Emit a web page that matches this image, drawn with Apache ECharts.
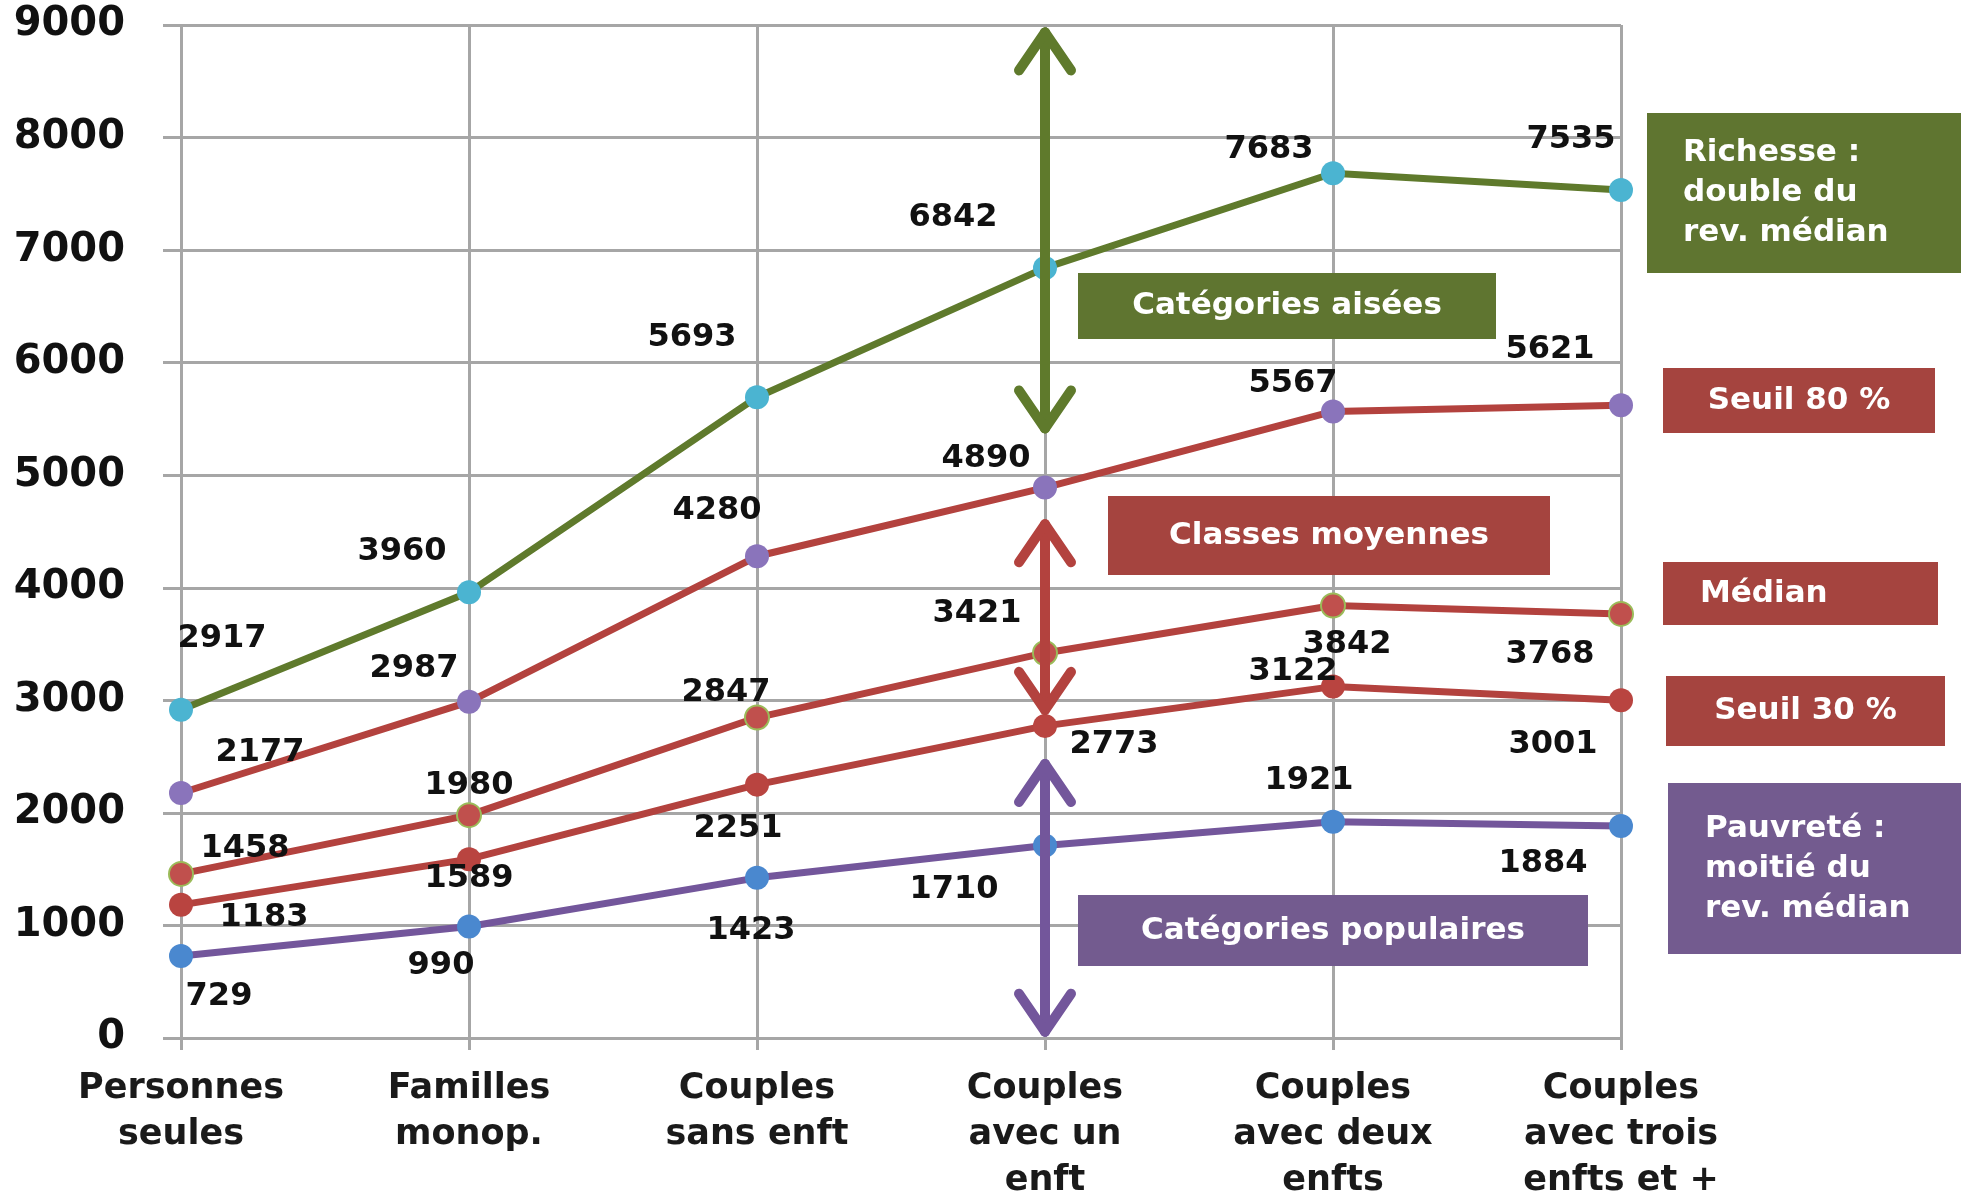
<!DOCTYPE html>
<html lang="fr">
<head>
    <meta charset="UTF-8">
    <script src="https://cdn.jsdelivr.net/npm/echarts@6/dist/echarts.min.js"></script>
    <title>Seuils de revenu</title>
    <style>
        html, body { margin: 0; padding: 0; background: #fff; }
        #chart { width: 1961px; height: 1194px; }
    </style>
</head>
<body>
<div id="chart"></div>
<script>
    // categories + series values
    var categories = ['Personnes\nseules', 'Familles\nmonop.', 'Couples\nsans enft',
                      'Couples\navec un\nenft', 'Couples\navec deux\nenfts', 'Couples\navec trois\nenfts et +'];
    var richesse = [2917, 3960, 5693, 6842, 7683, 7535];
    var seuil80  = [2177, 2987, 4280, 4890, 5567, 5621];
    var median   = [1458, 1980, 2847, 3421, 3842, 3768];
    var seuil30  = [1183, 1589, 2251, 2773, 3122, 3001];
    var pauvrete = [729, 990, 1423, 1710, 1921, 1884];
    var yTicks   = [0, 1000, 2000, 3000, 4000, 5000, 6000, 7000, 8000, 9000];

    // double arrows on the "Couples avec un enft" column: [top, bottom]
    var arrowCat = 3;
    var arrowTops    = [8970, 4600, 2470];
    var arrowBottoms = [5380, 2880, 20];
    var arrowColors  = ['#5f7a2c', '#b3423e', '#73569b'];

    // label offsets (px) for each point, per series
    var offRichesse = [[41, -71], [-67, -41], [-65, -60], [-92, -50], [-64, -24], [-50, -50]];
    var offSeuil80  = [[79, -40], [-55, -33], [-40, -46], [-59, -29], [-40, -28], [-71, -56]];
    var offMedian   = [[64, -25], [0, -29], [-31, -25], [-68, -39], [14, 39], [-71, 41]];
    var offSeuil30  = [[83, 13], [0, 20], [-19, 44], [69, 19], [-40, -15], [-68, 44]];
    var offPauvrete = [[38, 41], [-28, 39], [-6, 53], [-91, 44], [-24, -41], [-78, 38]];

    var FONT = '"DejaVu Sans", Verdana, sans-serif';
    var GRID = '#a6a6a6';

    function withLabels(values, offsets) {
        return values.map(function (v, i) {
            return { value: v, label: { offset: offsets[i] } };
        });
    }

    function lineSeries(name, values, offsets, lineColor, markerColor, borderColor) {
        return {
            name: name,
            type: 'line',
            data: withLabels(values, offsets),
            symbol: 'circle',
            symbolSize: 24,
            lineStyle: { color: lineColor, width: 7 },
            itemStyle: {
                color: markerColor,
                borderColor: borderColor || markerColor,
                borderWidth: borderColor ? 2 : 0
            },
            label: {
                show: true,
                position: 'inside',
                color: '#111',
                fontFamily: FONT,
                fontWeight: 'bold',
                fontSize: 32
            },
            emphasis: { disabled: true },
            z: 3
        };
    }

    var arrowData = arrowTops.map(function (t, i) {
        return [arrowCat, t, arrowBottoms[i]];
    });

    // annotation boxes
    var boxes = [
        { text: 'Catégories aisées', x: 1078, y: 273, w: 418, h: 66, color: '#5f7530', align: 'center' },
        { text: 'Classes moyennes', x: 1108, y: 496, w: 442, h: 79, color: '#a5443f', align: 'center' },
        { text: 'Catégories populaires', x: 1078, y: 895, w: 510, h: 71, color: '#735b8f', align: 'center' },
        { text: 'Richesse :\ndouble du\nrev. médian', x: 1647, y: 113, w: 330, h: 160, color: '#5f7530', align: 'left', pad: 36 },
        { text: 'Seuil 80 %', x: 1663, y: 368, w: 272, h: 65, color: '#a5443f', align: 'center' },
        { text: 'Médian', x: 1663, y: 562, w: 275, h: 63, color: '#a5443f', align: 'left', pad: 37 },
        { text: 'Seuil 30 %', x: 1666, y: 676, w: 279, h: 70, color: '#a5443f', align: 'center' },
        { text: 'Pauvreté :\nmoitié du\nrev. médian', x: 1668, y: 783, w: 310, h: 171, color: '#735b8f', align: 'left', pad: 37 }
    ];

    var graphics = [];
    boxes.forEach(function (b) {
        graphics.push({
            type: 'rect',
            shape: { x: b.x, y: b.y, width: b.w, height: b.h },
            style: { fill: b.color },
            z: 20
        });
        graphics.push({
            type: 'text',
            x: b.align === 'center' ? b.x + b.w / 2 : b.x + b.pad,
            y: b.y + b.h / 2,
            style: {
                text: b.text,
                fill: '#fff',
                font: 'bold 31px ' + FONT,
                align: b.align,
                verticalAlign: 'middle',
                lineHeight: 40
            },
            z: 21
        });
    });

    var chart = echarts.init(document.getElementById('chart'));

    var option = {
        animation: false,
        backgroundColor: '#fff',
        grid: { left: 181, right: 340, top: 25, bottom: 156, containLabel: false, outerBoundsMode: 'none' },
        xAxis: {
            type: 'category',
            data: categories,
            boundaryGap: false,
            axisLine: { show: true, lineStyle: { color: GRID, width: 3 } },
            axisTick: { show: true, length: 12, interval: 0, lineStyle: { color: GRID, width: 3 } },
            splitLine: { show: true, interval: 0, lineStyle: { color: GRID, width: 3 } },
            axisLabel: {
                interval: 0,
                margin: 28,
                color: '#1a1a1a',
                fontFamily: FONT,
                fontWeight: 'bold',
                fontSize: 35,
                lineHeight: 46
            }
        },
        yAxis: {
            type: 'value',
            min: yTicks[0],
            max: yTicks[yTicks.length - 1],
            interval: 1000,
            axisLine: { show: false },
            axisTick: { show: true, length: 18, lineStyle: { color: GRID, width: 3 } },
            splitLine: { show: true, lineStyle: { color: GRID, width: 3 } },
            axisLabel: {
                margin: 56,
                color: '#111',
                fontFamily: FONT,
                fontWeight: 'bold',
                fontSize: 40,
                formatter: function (v) { return String(v); }
            }
        },
        series: [
            lineSeries('Richesse', richesse, offRichesse, '#5f7a2c', '#4bb4d1'),
            lineSeries('Seuil 80 %', seuil80, offSeuil80, '#b3423e', '#8a74bb'),
            lineSeries('Médian', median, offMedian, '#b3423e', '#c0504d', '#9bbb59'),
            lineSeries('Seuil 30 %', seuil30, offSeuil30, '#b3423e', '#b94440'),
            lineSeries('Pauvreté', pauvrete, offPauvrete, '#73569b', '#4a88cf'),
            {
                name: 'arrows',
                type: 'custom',
                data: arrowData,
                encode: { x: 0, y: [1, 2] },
                z: 10,
                silent: true,
                renderItem: function (params, api) {
                    var top = api.coord([api.value(0), api.value(1)]);
                    var bot = api.coord([api.value(0), api.value(2)]);
                    var c = arrowColors[params.dataIndex];
                    var hw = 26, hh = 38;
                    var st = { stroke: c, lineWidth: 10, fill: null, lineCap: 'round', lineJoin: 'round' };
                    var ty = top[1] + 4, by = bot[1] - 4;
                    return {
                        type: 'group',
                        children: [
                            { type: 'line', shape: { x1: top[0], y1: ty, x2: bot[0], y2: by }, style: st },
                            { type: 'polyline', shape: { points: [[top[0] - hw, ty + hh], [top[0], ty], [top[0] + hw, ty + hh]] }, style: st },
                            { type: 'polyline', shape: { points: [[bot[0] - hw, by - hh], [bot[0], by], [bot[0] + hw, by - hh]] }, style: st }
                        ]
                    };
                }
            }
        ],
        graphic: graphics
    };

    chart.setOption(option);
</script>
</body>
</html>
